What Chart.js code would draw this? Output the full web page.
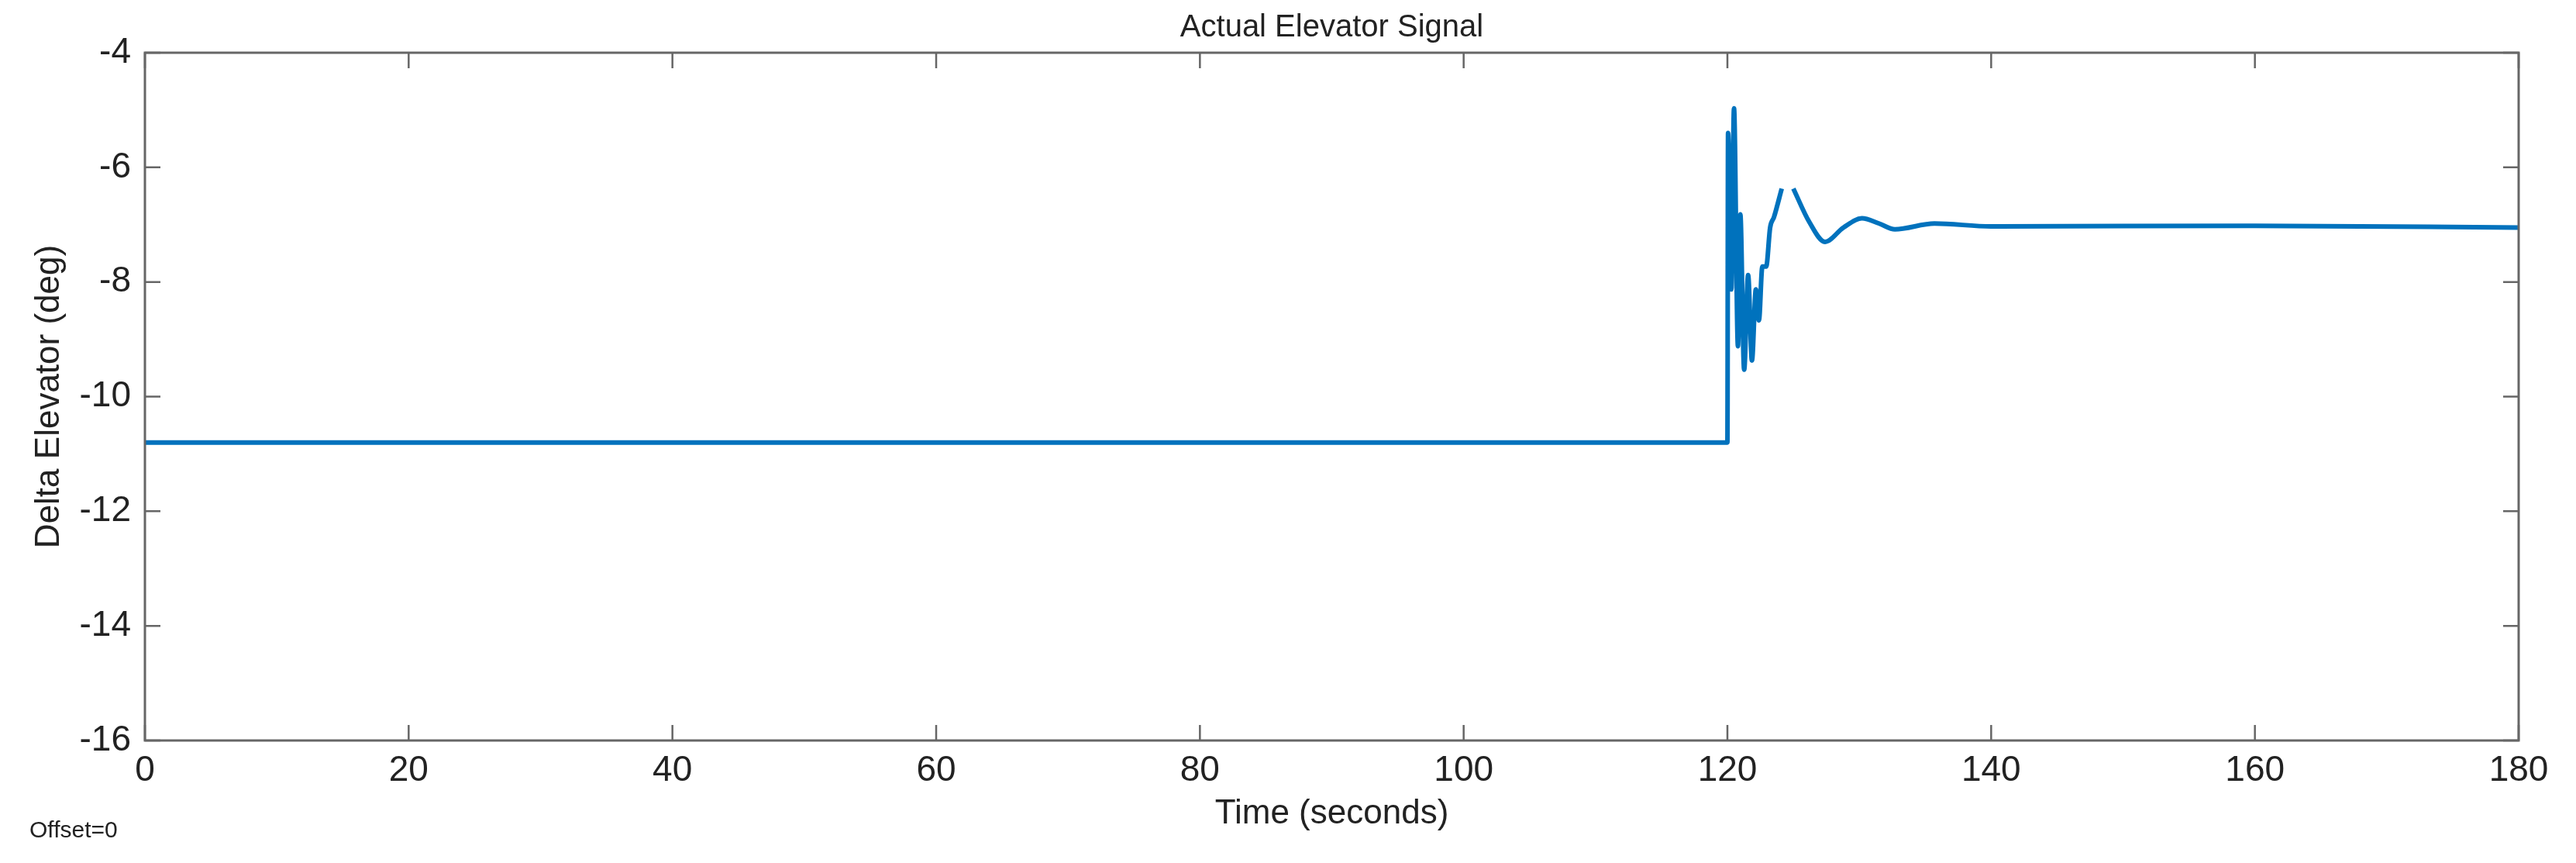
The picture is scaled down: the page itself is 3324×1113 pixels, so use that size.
<!DOCTYPE html>
<html><head><meta charset="utf-8">
<script src="https://cdn.jsdelivr.net/npm/chart.js@4"></script>
<style>html,body{margin:0;padding:0;background:#fff}#w{width:3324px;height:1113px}</style>
</head><body><div id="w"><canvas id="c"></canvas></div>
<script>
const timeSec = [0,120,120.05,120.3,120.5,120.8,120.98,121.27,121.57,121.86,122.16,122.39,122.65,122.94,123.24,123.53,124.12,124.5,125.0,126.2,127.4,128.8,130.2,131.5,132.7,135.7,140,160,180];
const deltaElev = [-10.8,-10.8,-5.40,-8.13,-4.97,-9.12,-6.82,-9.53,-7.88,-9.37,-8.13,-8.67,-7.73,-7.73,-7.05,-6.87,-6.37,null,-6.37,-6.95,-7.30,-7.05,-6.89,-6.98,-7.08,-6.98,-7.03,-7.02,-7.05];
const xTicks = [0,20,40,60,80,100,120,140,160,180];
const yTicks = [-16,-14,-12,-10,-8,-6,-4];
const titleText = 'Actual Elevator Signal';
const xTitle = 'Time (seconds)';
const yTitle = 'Delta Elevator (deg)';
const FONT = 'Liberation Sans, Arial, sans-serif';

const deco = {
  id:'deco',
  afterDraw(ch){
    const c=ch.ctx, a=ch.chartArea, xs=ch.scales.x, ys=ch.scales.y;
    c.save();
    c.strokeStyle='#666'; c.lineWidth=3;
    c.strokeRect(a.left,a.top,a.right-a.left,a.bottom-a.top);
    c.lineWidth=2.5;
    xTicks.forEach(v=>{const p=xs.getPixelForValue(v);
      c.beginPath();c.moveTo(p,a.bottom);c.lineTo(p,a.bottom-20);c.moveTo(p,a.top);c.lineTo(p,a.top+20);c.stroke();});
    yTicks.forEach(v=>{const p=ys.getPixelForValue(v);
      c.beginPath();c.moveTo(a.left,p);c.lineTo(a.left+20,p);c.moveTo(a.right,p);c.lineTo(a.right-20,p);c.stroke();});
    c.fillStyle='#222'; c.textAlign='center'; c.textBaseline='middle';
    c.font='40px '+FONT;
    c.fillText(titleText,(a.left+a.right)/2,36);
    c.font='44px '+FONT;
    c.fillText(xTitle,(a.left+a.right)/2,1050);
    c.save(); c.translate(64,(a.top+a.bottom)/2); c.rotate(-Math.PI/2);
    c.fillText(yTitle,0,0); c.restore();
    c.textAlign='left'; c.font='30px '+FONT;
    c.fillText('Offset=0',38,1072);
    c.restore();
  }
};

new Chart(document.getElementById('c'),{
  type:'line',
  data:{datasets:[{data:timeSec.map((t,i)=>({x:t,y:deltaElev[i]})),borderColor:'#0072BD',borderWidth:6,pointRadius:0,cubicInterpolationMode:'monotone',spanGaps:false}]},
  options:{
    responsive:true,maintainAspectRatio:false,animation:false,
    layout:{padding:{top:68,right:74,left:0,bottom:0}},
    plugins:{legend:{display:false},tooltip:{enabled:false}},
    scales:{
      x:{type:'linear',min:0,max:180,
        afterBuildTicks(s){s.ticks=xTicks.map(v=>({value:v}));},
        afterFit(s){s.height=158;},
        grid:{display:false},border:{display:false},
        ticks:{font:{size:46,family:FONT},color:'#222',padding:4,maxRotation:0}},
      y:{min:-16,max:-4,
        afterBuildTicks(s){s.ticks=yTicks.map(v=>({value:v}));},
        afterFit(s){s.width=187;},
        grid:{display:false},border:{display:false},
        ticks:{font:{size:46,family:FONT},color:'#222',padding:10}}
    }
  },
  plugins:[deco]
});
</script></body></html>
